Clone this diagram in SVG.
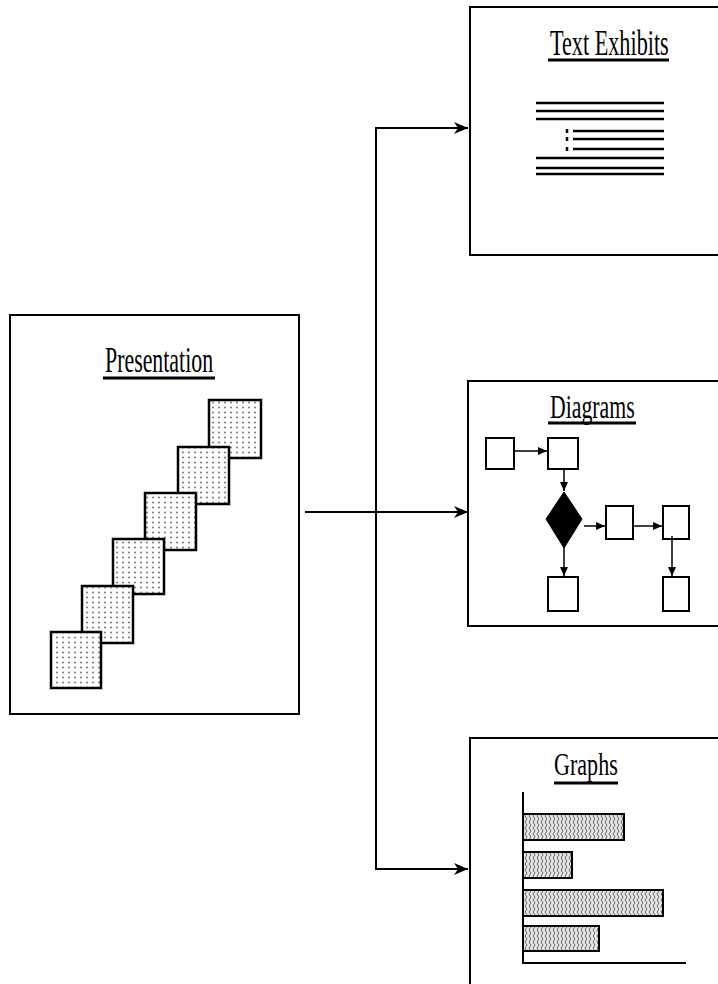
<svg xmlns="http://www.w3.org/2000/svg" width="718" height="984" viewBox="0 0 718 984">
  <style>
    .box { fill: #fff; stroke: #000; stroke-width: 2; }
    .title { font-family: "Liberation Serif", "Times New Roman", serif; fill: #000; }
    .ul { stroke: #000; stroke-width: 3; }
    .tl { stroke: #000; stroke-width: 2.5; }
    .sm { fill: #fff; stroke: #000; stroke-width: 2; }
    .conn { fill: none; stroke: #000; stroke-width: 2; }
    .dconn { fill: none; stroke: #000; stroke-width: 1.5; }
    .slide { fill: url(#dots); stroke: #000; stroke-width: 2.5; }
    .bar { fill: url(#wave); stroke: #000; stroke-width: 2; }
    .axis { stroke: #000; stroke-width: 2; fill: none; }
  </style>
  <defs>
    <pattern id="dots" width="6" height="5" patternUnits="userSpaceOnUse">
      <rect width="6" height="5" fill="#fff"/>
      <circle cx="3" cy="2.5" r="0.9" fill="#666"/>
    </pattern>
    <pattern id="wave" width="4" height="6" patternUnits="userSpaceOnUse">
      <rect width="4" height="6" fill="#e6e6e6"/>
      <path d="M1,0 L3,3 L1,6" fill="none" stroke="#555" stroke-width="0.9"/>
    </pattern>
    <marker id="arr" markerWidth="16" markerHeight="14" refX="15" refY="7" orient="auto" markerUnits="userSpaceOnUse">
      <path d="M1,1 L15,7 L1,13 L5,7 z" fill="#000"/>
    </marker>
    <marker id="sarr" markerWidth="10" markerHeight="10" refX="9" refY="5" orient="auto" markerUnits="userSpaceOnUse">
      <path d="M0,1 L9,5 L0,9 z" fill="#000"/>
    </marker>
  </defs>

  <g id="presentation">
    <rect class="box" x="10" y="315" width="289" height="399"/>
    <text class="title" font-size="35" transform="translate(105,372) scale(0.625,1)">Presentation</text>
    <line class="ul" x1="103" y1="378" x2="215" y2="378"/>
    <rect class="slide" x="209" y="400" width="52" height="58"/>
    <rect class="slide" x="178" y="447" width="51" height="57"/>
    <rect class="slide" x="145" y="493" width="51" height="57"/>
    <rect class="slide" x="113" y="539" width="51" height="55"/>
    <rect class="slide" x="82" y="586" width="51" height="57"/>
    <rect class="slide" x="51" y="632" width="50" height="56"/>
  </g>

  <g id="text-exhibits">
    <rect class="box" x="470" y="7" width="260" height="248"/>
    <text class="title" font-size="35" transform="translate(550,55) scale(0.635,1)">Text Exhibits</text>
    <line class="ul" x1="548" y1="60" x2="669" y2="60"/>
    <line class="tl" x1="536" y1="103" x2="664" y2="103"/>
    <line class="tl" x1="536" y1="111" x2="664" y2="111"/>
    <line class="tl" x1="536" y1="119" x2="664" y2="119"/>
    <line class="tl" x1="573" y1="131" x2="664" y2="131"/>
    <line class="tl" x1="573" y1="139" x2="664" y2="139"/>
    <line class="tl" x1="573" y1="149" x2="664" y2="149"/>
    <line class="tl" x1="567" y1="129" x2="567" y2="133"/>
    <line class="tl" x1="567" y1="137" x2="567" y2="141"/>
    <line class="tl" x1="567" y1="147" x2="567" y2="151"/>
    <line class="tl" x1="536" y1="158" x2="664" y2="158"/>
    <line class="tl" x1="536" y1="168" x2="664" y2="168"/>
    <line class="tl" x1="536" y1="174" x2="664" y2="174"/>
  </g>

  <g id="diagrams">
    <rect class="box" x="468" y="381" width="260" height="245"/>
    <text class="title" font-size="33" transform="translate(550,418) scale(0.66,1)">Diagrams</text>
    <line class="ul" x1="548" y1="423" x2="636" y2="423"/>
    <rect class="sm" x="486" y="438" width="28" height="31"/>
    <rect class="sm" x="548" y="438" width="30" height="31"/>
    <polygon points="564,492 582,519 564,548 546,519" fill="#000" stroke="#000" stroke-width="1"/>
    <rect class="sm" x="606" y="506" width="27" height="33"/>
    <rect class="sm" x="663" y="506" width="26" height="33"/>
    <rect class="sm" x="548" y="577" width="30" height="34"/>
    <rect class="sm" x="663" y="577" width="26" height="34"/>
    <line class="dconn" x1="514" y1="451" x2="547" y2="451" marker-end="url(#sarr)"/>
    <line class="dconn" x1="564" y1="469" x2="564" y2="491" marker-end="url(#sarr)"/>
    <line class="dconn" x1="584" y1="526" x2="605" y2="526" marker-end="url(#sarr)"/>
    <line class="dconn" x1="633" y1="526" x2="662" y2="526" marker-end="url(#sarr)"/>
    <line class="dconn" x1="564" y1="548" x2="564" y2="576" marker-end="url(#sarr)"/>
    <line class="dconn" x1="672" y1="536" x2="672" y2="576" marker-end="url(#sarr)"/>
  </g>

  <g id="graphs">
    <rect class="box" x="470" y="738" width="260" height="260"/>
    <text class="title" font-size="32" transform="translate(554,775) scale(0.69,1)">Graphs</text>
    <line class="ul" x1="554" y1="783" x2="618" y2="783"/>
    <rect class="bar" x="523" y="814" width="101" height="26"/>
    <rect class="bar" x="523" y="852" width="49" height="26"/>
    <rect class="bar" x="523" y="890" width="140" height="26"/>
    <rect class="bar" x="523" y="926" width="76" height="25"/>
    <polyline class="axis" points="523,792 523,963 686,963"/>
  </g>

  <g id="connectors">
    <polyline class="conn" points="305,512 468,512" marker-end="url(#arr)"/>
    <polyline class="conn" points="376,512 376,128 468,128" marker-end="url(#arr)"/>
    <polyline class="conn" points="376,512 376,869 468,869" marker-end="url(#arr)"/>
  </g>
</svg>
